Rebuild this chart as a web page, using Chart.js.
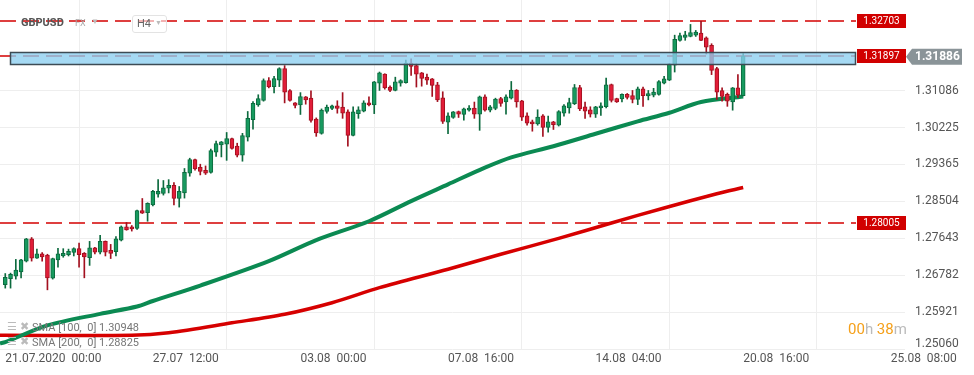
<!DOCTYPE html>
<html>
<head>
<meta charset="utf-8">
<script src="https://cdn.jsdelivr.net/npm/chart.js@4/dist/chart.umd.min.js"></script>
<style>
  html, body { margin: 0; padding: 0; background: #fff; }
  #wrap { position: relative; width: 974px; height: 375px; font-family: Roboto, "Open Sans", sans-serif; overflow: hidden; }
  #chart { position: absolute; left: 0; top: 0; }
  .ov { position: absolute; white-space: pre; line-height: 1; }
</style>
</head>
<body>
<div id="wrap">
  <canvas id="chart" width="974" height="375"></canvas>

  <div class="ov" style="left:21px;top:17px;font-size:11px;font-weight:700;color:#555;">GBPUSD</div>
  <div class="ov" style="left:75px;top:19px;font-size:9px;color:#aaa;">FX</div>
  <div class="ov" style="left:91px;top:18px;font-size:8px;color:#bbb;">▼</div>
  <div class="ov" style="left:132px;top:15px;width:33px;height:16px;border:1px solid #e3e3e3;border-radius:3px;background:rgba(255,255,255,0.6);"></div>
  <div class="ov" style="left:137px;top:18px;font-size:11px;color:#666;">H4</div>
  <div class="ov" style="left:155px;top:20px;font-size:7px;color:#bbb;">▼</div>

  <div class="ov" style="left:7px;top:321px;font-size:11px;color:#bbb;">☰ ✖</div>
  <div class="ov" style="left:32px;top:322px;font-size:11px;color:#777;">SMA [100,  0] 1.30948</div>
  <div class="ov" style="left:7px;top:336px;font-size:11px;color:#bbb;">☰ ✖</div>
  <div class="ov" style="left:32px;top:337px;font-size:11px;color:#777;">SMA [200,  0] 1.28825</div>

  <div class="ov" style="left:848px;top:322px;font-size:15px;"><span style="color:#f5a01a">00</span><span style="color:#bbb">h </span><span style="color:#f5a01a">38</span><span style="color:#bbb">m</span></div>
</div>

<script>
// H4 candles, GBPUSD, 21.07.2020 00:00 -> 20.08.2020 16:00
const candleOpen = [
  1.2656, 1.2670, 1.2676, 1.2686, 1.2711, 1.2763, 1.2718, 1.2728, 1.2725, 1.2671,
  1.2714, 1.2723, 1.2726, 1.2731, 1.2740, 1.2729, 1.2719, 1.2742, 1.2732, 1.2757,
  1.2736, 1.2733, 1.2760, 1.2791, 1.2791, 1.2787, 1.2829, 1.2824, 1.2842, 1.2867,
  1.2869, 1.2881, 1.2888, 1.2857, 1.2870, 1.2916, 1.2948, 1.2930, 1.2923, 1.2918,
  1.2965, 1.2982, 1.2984, 1.2997, 1.2979, 1.2958, 1.3000, 1.3041, 1.3075, 1.3086,
  1.3132, 1.3118, 1.3133, 1.3160, 1.3109, 1.3080, 1.3075, 1.3094, 1.3091, 1.3042,
  1.3009, 1.3060, 1.3067, 1.3073, 1.3070, 1.3059, 1.3004, 1.3055, 1.3061, 1.3080,
  1.3075, 1.3126, 1.3147, 1.3117, 1.3109, 1.3126, 1.3127, 1.3173, 1.3167, 1.3150,
  1.3140, 1.3136, 1.3122, 1.3092, 1.3035, 1.3046, 1.3060, 1.3053, 1.3063, 1.3068,
  1.3054, 1.3094, 1.3063, 1.3067, 1.3090, 1.3082, 1.3091, 1.3110, 1.3085, 1.3050,
  1.3036, 1.3031, 1.3050, 1.3023, 1.3036, 1.3028, 1.3056, 1.3068, 1.3078, 1.3116,
  1.3071, 1.3064, 1.3054, 1.3068, 1.3071, 1.3123, 1.3090, 1.3089, 1.3100, 1.3097,
  1.3088, 1.3113, 1.3096, 1.3098, 1.3100, 1.3126, 1.3133, 1.3168, 1.3226, 1.3233,
  1.3235, 1.3238, 1.3243, 1.3232, 1.3214, 1.3160, 1.3109, 1.3100, 1.3082, 1.3115,
  1.3097
]
const candleHigh = [
  1.2682, 1.2683, 1.2715, 1.2715, 1.2764, 1.2766, 1.2739, 1.2731, 1.2727, 1.2718,
  1.2741, 1.2740, 1.2739, 1.2742, 1.2753, 1.2731, 1.2757, 1.2743, 1.2771, 1.2758,
  1.2750, 1.2768, 1.2793, 1.2801, 1.2794, 1.2830, 1.2857, 1.2847, 1.2876, 1.2901,
  1.2899, 1.2901, 1.2894, 1.2885, 1.2927, 1.2951, 1.2949, 1.2937, 1.2933, 1.2972,
  1.2991, 1.2990, 1.3011, 1.2998, 1.2986, 1.3009, 1.3060, 1.3083, 1.3099, 1.3136,
  1.3139, 1.3142, 1.3162, 1.3167, 1.3111, 1.3081, 1.3104, 1.3095, 1.3108, 1.3045,
  1.3066, 1.3075, 1.3075, 1.3085, 1.3104, 1.3064, 1.3071, 1.3071, 1.3085, 1.3094,
  1.3130, 1.3152, 1.3148, 1.3120, 1.3140, 1.3134, 1.3180, 1.3183, 1.3171, 1.3151,
  1.3147, 1.3137, 1.3128, 1.3106, 1.3057, 1.3060, 1.3061, 1.3068, 1.3074, 1.3082,
  1.3096, 1.3099, 1.3074, 1.3091, 1.3093, 1.3099, 1.3130, 1.3111, 1.3086, 1.3057,
  1.3040, 1.3064, 1.3053, 1.3049, 1.3037, 1.3062, 1.3076, 1.3091, 1.3123, 1.3121,
  1.3082, 1.3071, 1.3072, 1.3080, 1.3138, 1.3124, 1.3091, 1.3101, 1.3102, 1.3109,
  1.3117, 1.3117, 1.3109, 1.3114, 1.3132, 1.3142, 1.3172, 1.3238, 1.3243, 1.3247,
  1.3263, 1.3249, 1.3270, 1.3234, 1.3218, 1.3163, 1.3115, 1.3103, 1.3116, 1.3146,
  1.3195
]
const candleLow = [
  1.2648, 1.2648, 1.2669, 1.2672, 1.2709, 1.2711, 1.2717, 1.2711, 1.2644, 1.2669,
  1.2697, 1.2720, 1.2723, 1.2723, 1.2697, 1.2672, 1.2701, 1.2728, 1.2728, 1.2723,
  1.2717, 1.2723, 1.2758, 1.2783, 1.2781, 1.2785, 1.2822, 1.2804, 1.2840, 1.2860,
  1.2865, 1.2870, 1.2842, 1.2837, 1.2858, 1.2909, 1.2923, 1.2912, 1.2913, 1.2916,
  1.2955, 1.2954, 1.2946, 1.2972, 1.2954, 1.2944, 1.2991, 1.3019, 1.3072, 1.3084,
  1.3115, 1.3103, 1.3118, 1.3080, 1.3084, 1.3068, 1.3053, 1.3077, 1.3035, 1.3002,
  1.3007, 1.3056, 1.3064, 1.3056, 1.3044, 1.2979, 1.3003, 1.3044, 1.3059, 1.3073,
  1.3055, 1.3109, 1.3112, 1.3106, 1.3108, 1.3119, 1.3126, 1.3144, 1.3117, 1.3119,
  1.3123, 1.3095, 1.3083, 1.3032, 1.3008, 1.3044, 1.3046, 1.3040, 1.3061, 1.3044,
  1.3016, 1.3061, 1.3059, 1.3064, 1.3072, 1.3054, 1.3089, 1.3070, 1.3039, 1.3028,
  1.3014, 1.3028, 1.3002, 1.3012, 1.3018, 1.3026, 1.3049, 1.3056, 1.3076, 1.3062,
  1.3044, 1.3047, 1.3046, 1.3051, 1.3068, 1.3082, 1.3081, 1.3082, 1.3089, 1.3080,
  1.3076, 1.3072, 1.3087, 1.3094, 1.3098, 1.3124, 1.3132, 1.3152, 1.3224, 1.3226,
  1.3234, 1.3235, 1.3225, 1.3194, 1.3146, 1.3088, 1.3084, 1.3072, 1.3063, 1.3092,
  1.3096
]
const candleClose = [
  1.2673, 1.2680, 1.2690, 1.2714, 1.2763, 1.2718, 1.2728, 1.2721, 1.2672, 1.2717,
  1.2728, 1.2729, 1.2734, 1.2740, 1.2726, 1.2721, 1.2742, 1.2732, 1.2757, 1.2732,
  1.2729, 1.2763, 1.2791, 1.2784, 1.2786, 1.2829, 1.2823, 1.2846, 1.2874, 1.2874,
  1.2882, 1.2888, 1.2857, 1.2874, 1.2918, 1.2948, 1.2926, 1.2920, 1.2916, 1.2969,
  1.2985, 1.2989, 1.2997, 1.2974, 1.2958, 1.3004, 1.3044, 1.3079, 1.3090, 1.3132,
  1.3117, 1.3137, 1.3160, 1.3105, 1.3086, 1.3074, 1.3095, 1.3087, 1.3039, 1.3010,
  1.3063, 1.3070, 1.3073, 1.3067, 1.3056, 1.3004, 1.3059, 1.3064, 1.3080, 1.3075,
  1.3129, 1.3150, 1.3115, 1.3109, 1.3129, 1.3132, 1.3173, 1.3165, 1.3147, 1.3137,
  1.3133, 1.3121, 1.3087, 1.3037, 1.3050, 1.3059, 1.3054, 1.3066, 1.3068, 1.3054,
  1.3094, 1.3063, 1.3071, 1.3089, 1.3079, 1.3094, 1.3110, 1.3082, 1.3047, 1.3033,
  1.3031, 1.3047, 1.3023, 1.3036, 1.3029, 1.3060, 1.3073, 1.3081, 1.3116, 1.3066,
  1.3061, 1.3054, 1.3071, 1.3073, 1.3122, 1.3086, 1.3082, 1.3100, 1.3093, 1.3088,
  1.3113, 1.3097, 1.3102, 1.3105, 1.3130, 1.3136, 1.3171, 1.3228, 1.3237, 1.3239,
  1.3244, 1.3245, 1.3226, 1.3210, 1.3156, 1.3105, 1.3095, 1.3084, 1.3115, 1.3098,
  1.31886
]

const sma100Idx = [-1, 0, 8, 18, 25, 28, 37, 50, 59, 69, 77, 84, 91, 96, 104, 112, 120, 126, 132, 140]
const sma100 = [1.2519, 1.2522, 1.2561, 1.2588, 1.2605, 1.2618, 1.2654, 1.2711, 1.2760, 1.2804,
  1.2851, 1.2890, 1.2929, 1.2953, 1.2979, 1.3008, 1.3037, 1.3057, 1.3082, 1.30948]
const sma200Idx = [-1, 0, 24, 31, 43, 53, 62, 71, 84, 94, 105, 115, 125, 135, 140]
const sma200 = [1.2538, 1.2538, 1.2538, 1.2544, 1.2567, 1.2587, 1.2614, 1.2649, 1.2692, 1.2727,
  1.2764, 1.2800, 1.2835, 1.2868, 1.28825]

const xTickIdx = [0, 28, 56, 84, 112, 140, 168]
const xTickLabels = ["21.07.2020  00:00", "27.07  12:00", "03.08  00:00", "07.08  16:00", "14.08  04:00", "20.08  16:00", "25.08  08:00"]
const yTicks = [1.25060, 1.25921, 1.26782, 1.27643, 1.28504, 1.29365, 1.30225, 1.31086]

const levelPrices = [1.32703, 1.31897, 1.28005]
const zoneRange = [1.3171, 1.3198]
const lastPrice = 1.31886

const UP_FILL = "#179a5f", UP_EDGE = "#0c6a3e"
const DN_FILL = "#e11d38", DN_EDGE = "#a3101f"
const LEVEL_RED = "rgb(212, 0, 0)"

const isUp = candleClose.map((c, i) => c >= candleOpen[i])
const bodies = candleOpen.map((o, i) => ({ x: i, y: [o, candleClose[i]] }))
const wicks = candleOpen.map((o, i) => ({ x: i, y: [candleLow[i], candleHigh[i]] }))

// horizontal levels, zone and price tags
const levelsPlugin = {
  id: "levels",
  beforeDatasetsDraw(chart) {
    const { ctx, chartArea, scales } = chart
    ctx.save()
    ctx.setLineDash([16, 7])
    levelPrices.forEach(p => {
      const y = Math.round(scales.y.getPixelForValue(p))
      ctx.strokeStyle = LEVEL_RED
      ctx.lineWidth = 1.5
      ctx.beginPath()
      ctx.moveTo(chartArea.left, y)
      ctx.lineTo(856, y)
      ctx.stroke()
    })
    ctx.restore()
  },
  afterDatasetsDraw(chart) {
    const { ctx, scales } = chart
    const y = scales.y
    ctx.save()
    // blue zone
    const zTop = Math.round(y.getPixelForValue(zoneRange[1])) + 0.5
    const zBot = Math.round(y.getPixelForValue(zoneRange[0])) + 0.5
    ctx.fillStyle = "rgba(140, 206, 240, 0.78)"
    ctx.fillRect(10.5, zTop, 845, zBot - zTop)
    ctx.strokeStyle = "#3d4b54"
    ctx.lineWidth = 1.5
    ctx.strokeRect(10.5, zTop, 845, zBot - zTop)

    // red level tags
    ctx.font = "10px Roboto"
    ctx.textAlign = "center"
    ctx.textBaseline = "middle"
    levelPrices.forEach(p => {
      const py = y.getPixelForValue(p)
      ctx.fillStyle = "#d10000"
      ctx.fillRect(857, Math.round(py) - 7, 49, 14)
      ctx.fillStyle = "#fff"
      ctx.fillText(p.toFixed(5), 881.5, py + 0.5)
    })

    // current price tag
    const cy = y.getPixelForValue(lastPrice) + 0.5
    ctx.fillStyle = "#8a9498"
    ctx.beginPath()
    ctx.moveTo(906, cy)
    ctx.lineTo(912, cy - 8)
    ctx.lineTo(962, cy - 8)
    ctx.lineTo(962, cy + 8)
    ctx.lineTo(912, cy + 8)
    ctx.closePath()
    ctx.fill()
    ctx.fillStyle = "#fff"
    ctx.font = "bold 12px Roboto"
    ctx.textAlign = "left"
    ctx.fillText(lastPrice.toFixed(5), 915, cy + 0.5)

    // bottom axis value sits a little above its grid line
    ctx.fillStyle = "#555"
    ctx.font = "12px Roboto"
    ctx.fillText(yTicks[0].toFixed(5), 915, y.getPixelForValue(yTicks[0]) - 5)
    ctx.restore()
  }
}

const noPad = s => {
  s.paddingTop = 0
  s.paddingBottom = 0
  s.paddingLeft = 0
  s.paddingRight = 0
}

const canvas = document.getElementById("chart")
new Chart(canvas, {
  type: "bar",
  data: {
    datasets: [
      {
        type: "line",
        label: "SMA 200",
        data: sma200Idx.map((x, i) => ({ x: x, y: sma200[i] })),
        borderColor: "#d60000",
        borderWidth: 3.5,
        pointRadius: 0,
        tension: 0.3,
        order: 4,
      },
      {
        type: "line",
        label: "SMA 100",
        data: sma100Idx.map((x, i) => ({ x: x, y: sma100[i] })),
        borderColor: "#0b8a52",
        borderWidth: 4,
        pointRadius: 0,
        tension: 0.3,
        order: 3,
      },
      {
        label: "wick",
        data: wicks,
        backgroundColor: isUp.map(u => (u ? UP_EDGE : DN_EDGE)),
        barThickness: 1,
        grouped: false,
        order: 2,
      },
      {
        label: "body",
        data: bodies,
        backgroundColor: isUp.map(u => (u ? UP_FILL : DN_FILL)),
        borderColor: isUp.map(u => (u ? UP_EDGE : DN_EDGE)),
        borderWidth: 1,
        borderSkipped: false,
        barThickness: 4,
        minBarLength: 1,
        grouped: false,
        order: 1,
      },
    ],
  },
  options: {
    responsive: false,
    animation: false,
    devicePixelRatio: 1,
    layout: { padding: 0 },
    plugins: {
      legend: { display: false },
      tooltip: { enabled: false },
    },
    scales: {
      x: {
        type: "linear",
        min: -1,
        max: 170.7,
        offset: false,
        grid: { color: "#eeeeee", drawTicks: false },
        border: { display: false },
        afterBuildTicks: s => { s.ticks = xTickIdx.map(v => ({ value: v })) },
        afterFit: s => { s.height = 26; noPad(s) },
        ticks: {
          align: "start",
          autoSkip: false,
          maxRotation: 0,
          padding: 3,
          color: "#555",
          font: { family: "Roboto", size: 12 },
          callback: (v, i) => xTickLabels[i],
        },
      },
      y: {
        position: "right",
        min: 1.2506,
        max: 1.3320,
        grid: { color: "#eeeeee", drawTicks: false },
        border: { display: false },
        afterBuildTicks: s => { s.ticks = yTicks.map(v => ({ value: v })) },
        afterFit: s => { s.width = 69; noPad(s) },
        ticks: {
          padding: 10,
          color: "#555",
          font: { family: "Roboto", size: 12 },
          callback: (v, i) => (i === 0 ? "" : v.toFixed(5)),
        },
      },
    },
  },
  plugins: [levelsPlugin],
})
</script>
</body>
</html>
